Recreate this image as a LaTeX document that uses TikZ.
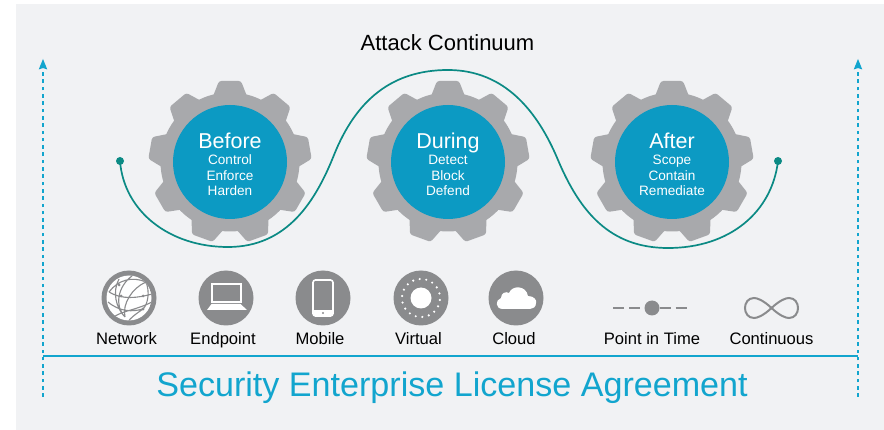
\documentclass[tikz,border=0pt]{standalone}
\usepackage{fontspec}
\setmainfont{Liberation Sans}
\usetikzlibrary{arrows.meta,calc}
\definecolor{panel}{HTML}{F1F2F4}
\definecolor{gearc}{HTML}{A8A9AC}
\definecolor{hubc}{HTML}{0C9AC3}
\definecolor{tealc}{HTML}{0B8A84}
\definecolor{blinec}{HTML}{12A5CE}
\definecolor{iconc}{HTML}{8A8B8D}
\tikzset{
  hub/.style={circle,fill=hubc,minimum size=114pt,inner sep=0pt},
  hubtxt/.style={inner sep=0pt,text=white,align=center,font=\fontsize{13.6}{15.6}\selectfont},
  icondisc/.style={circle,fill=iconc,minimum size=55pt,inner sep=0pt},
  iconlabel/.style={text=black,font=\fontsize{16.6}{18}\selectfont,inner sep=0pt,anchor=base},
  vline/.style={draw=blinec,line width=2pt,dash pattern=on 3.6pt off 3.7pt},
  wave/.style={draw=tealc,line width=1.7pt},
  dotend/.style={circle,fill=tealc,minimum size=8pt,inner sep=0pt},
}
\newcommand{\hubtext}[4]{{\fontsize{21.5}{21}\selectfont #1}\\[0.5pt]#2\\#3\\#4}
\newcommand{\geardraw}[2]{%
  \fill[gearc] (#1,#2) circle[radius=69.5pt];
  \foreach \a in {90,130,...,410}{
    \fill[gearc,rounded corners=2.5pt,shift={(#1pt,-#2pt)},rotate=\a]
      (60pt,-19pt) -- (67pt,-16.5pt) -- (81pt,-11pt) -- (81pt,11pt) -- (67pt,16.5pt) -- (60pt,19pt) -- cycle;
  }}
\begin{document}
\begin{tikzpicture}[x=1pt,y=-1pt]
\useasboundingbox (0,0) rectangle (884,430);
\fill[white] (0,0) rectangle (884,430);
\fill[panel] (16,4) rectangle (884,430);

% gears
\geardraw{230}{162}
\geardraw{448}{162}
\geardraw{672}{162}

% wave
\node[dotend] (ws) at (120,161) {};
\node[dotend] (we) at (778,161) {};
\coordinate (b1) at (228,247);
\coordinate (t1) at (448,70);
\coordinate (b2) at (668,248);
\draw[wave] (ws.center) .. controls (124,212) and (170,247) .. (b1)
  .. controls (288,247) and (316,200) .. (334,155)
  .. controls (356,100) and (392,70) .. (t1)
  .. controls (505,70) and (538,112) .. (558,160)
  .. controls (580,212) and (610,248) .. (b2)
  .. controls (730,248) and (772,212) .. (we.center);

\node[hub] (before) at (230,162) {};
\node[hub] (during) at (448,162) {};
\node[hub] (after)  at (672,162) {};
\node[hubtxt] (tbefore) at (230,164.3) {\hubtext{Before}{Control}{Enforce}{Harden}};
\node[hubtxt] (tduring) at (448,164.3) {\hubtext{During}{Detect}{Block}{Defend}};
\node[hubtxt] (tafter)  at (672,164.3) {\hubtext{After}{Scope}{Contain}{Remediate}};

\node[text=black,font=\fontsize{22}{24}\selectfont,inner sep=0pt,anchor=base] (title) at (447.5,51) {Attack Continuum};

% side arrows and base line
\coordinate (la) at (43,397); \coordinate (lb) at (43,59);
\coordinate (ra) at (858,397); \coordinate (rb) at (858,59);
\draw[vline] (la) -- ($(lb)+(0,8)$);
\draw[vline] (ra) -- ($(rb)+(0,8)$);
\fill[blinec] (lb) -- (47.3,69.5) -- (43,68) -- (38.7,69.5) -- cycle;
\fill[blinec] (rb) -- (862.3,69.5) -- (858,68) -- (853.7,69.5) -- cycle;
\draw[blinec,line width=2.2pt] (43,356) -- (858,356);

\node[text=blinec,font=\fontsize{34.1}{38}\selectfont,inner sep=0pt,anchor=base] (sela) at (452,396) {Security Enterprise License Agreement};

% network icon
\node[icondisc] (net) at (129,298) {};
\begin{scope}
\clip (129,298) circle[radius=22.5pt];
\fill[white] (129,298) circle[radius=23pt];
\draw[iconc,line width=1.1pt]
  (109,292) .. controls (118,280) and (132,276) .. (146,282)
  (109,292) .. controls (122,300) and (138,298) .. (152,294)
  (146,282) .. controls (150,292) and (148,304) .. (143,309)
  (119,279) .. controls (112,292) and (116,308) .. (125,317)
  (132,276) .. controls (118,286) and (114,306) .. (125,317)
  (146,282) .. controls (132,288) and (122,304) .. (125,317)
  (108,302) .. controls (120,312) and (132,312) .. (143,309)
  (115,316) .. controls (126,310) and (136,310) .. (152,302)
  (143,309) .. controls (136,314) and (130,318) .. (128,322);
\end{scope}
\fill[iconc] (146,282) circle[radius=1.7pt] (143,309) circle[radius=1.7pt] (119,285) circle[radius=1.5pt] (121,296) circle[radius=1.5pt] (143,296) circle[radius=1.5pt];

% endpoint icon
\node[icondisc] (endp) at (226,298) {};
\draw[white,line width=1.6pt] (212,284) rectangle (241,302);
\fill[white] (211.5,304) -- (240.5,304) -- (247,310) -- (207,310) -- cycle;

% mobile icon
\node[icondisc] (mob) at (323,298) {};
\draw[white,line width=1.6pt,rounded corners=2.5pt] (313,280) rectangle (333,316);
\fill[white] (313,310) rectangle (333,316);
\fill[iconc] (323,313) circle[radius=1.1pt];

% virtual icon
\node[icondisc] (virt) at (421,298) {};
\fill[white] (421,298) circle[radius=10.5pt];
\foreach \a in {0,20,...,340}{
  \fill[white] ($(421,298)+({19*cos(\a+6)},{19*sin(\a+6)})$) circle[radius=1.2pt];
}

% cloud icon
\node[icondisc] (cld) at (516,298) {};
\fill[white]
  (503,309) .. controls (495,309) and (495,300) .. (501,298)
  .. controls (501,293) and (506,291) .. (509,293)
  .. controls (512,285) and (526,285) .. (528,296)
  .. controls (534,296) and (537,300) .. (536,303)
  .. controls (536,307) and (533,309) .. (530,309) -- cycle;

% labels
\node[iconlabel] (lnet) at (126.5,345) {Network};
\node[iconlabel] (lend) at (223,345) {Endpoint};
\node[iconlabel] (lmob) at (320,345) {Mobile};
\node[iconlabel] (lvir) at (418.5,345) {Virtual};
\node[iconlabel] (lclo) at (514,345) {Cloud};
\node[iconlabel] (lpit) at (652,345) {Point in Time};
\node[iconlabel] (lcon) at (771.5,345) {Continuous};

% point in time
\node[circle,fill=iconc,minimum size=15pt,inner sep=0pt] (pit) at (652,308) {};
\coordinate (pl) at (613,308); \coordinate (pr) at (691,308);
\draw[iconc,line width=1.8pt,dash pattern=on 11pt off 5pt] (pl) -- (pit.west);
\draw[iconc,line width=1.8pt,dash pattern=on 11pt off 5pt] (pit.east) -- (pr);

% continuous
\draw[iconc,line width=2pt] (771.5,308)
  .. controls (780,300) and (786,298) .. (789,298)
  .. controls (801,298) and (801,318) .. (789,318)
  .. controls (786,318) and (780,316) .. (771.5,308)
  .. controls (763,300) and (757,298) .. (754,298)
  .. controls (742,298) and (742,318) .. (754,318)
  .. controls (757,318) and (763,316) .. (771.5,308) -- cycle;
\end{tikzpicture}
\end{document}
